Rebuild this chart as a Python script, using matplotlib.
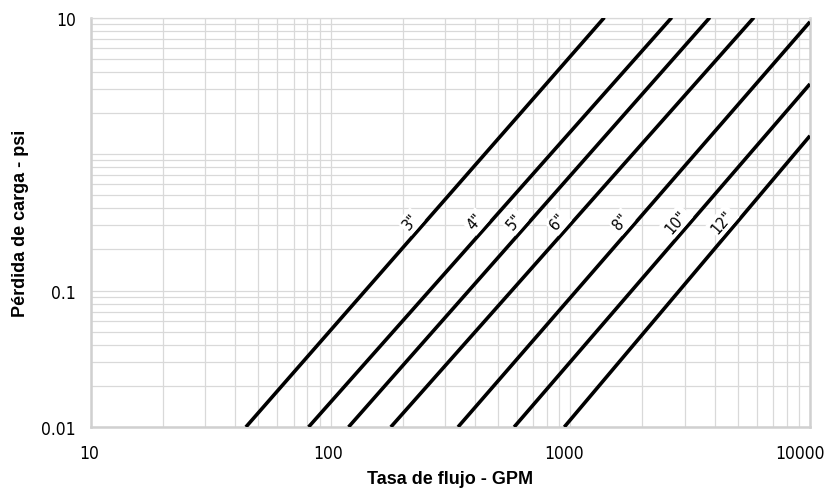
import numpy as np
import matplotlib
matplotlib.use("Agg")
import matplotlib.pyplot as plt
import matplotlib.transforms as mtransforms
from matplotlib.ticker import LogLocator, NullFormatter

# pipe sizes and line end points (GPM, psi)
sizes = ['3"', '4"', '5"', '6"', '8"', '10"', '12"']
q_start = [44.3, 80.9, 118.8, 178.3, 340, 583, 944]
p_start = [0.01, 0.01, 0.01, 0.01, 0.01, 0.01, 0.01]
q_end = [1387, 2650, 3820, 5834, 10000, 10000, 10000]
p_end = [10, 10, 10, 10, 9.3, 3.26, 1.36]

label_p = 0.32  # psi level where the size labels sit

y_ticks = [0.01, 0.1, 1, 10]
y_ticklabels = ["0.01", "0.1", "", "10"]
x_ticks = [10, 100, 1000, 10000]
x_ticklabels = ["10", "100", "1000", "10000"]

fig = plt.figure(figsize=(8.27, 5.02), dpi=100)
ax = fig.add_axes([0.110, 0.1474, 0.8694, 0.8157])

ax.set_xscale("log")
ax.set_yscale("log")
ax.set_xlim(10, 10000)
ax.set_ylim(0.01, 10)

for s, q0, p0, q1, p1 in zip(sizes, q_start, p_start, q_end, p_end):
    ax.plot([q0, q1], [p0, p1], color="black", lw=2.6, solid_capstyle="butt", zorder=3)
    # x on the line at the label level (straight line in log-log)
    t = (np.log10(label_p) - np.log10(p0)) / (np.log10(p1) - np.log10(p0))
    qx = 10 ** (np.log10(q0) + t * (np.log10(q1) - np.log10(q0)))
    ax.annotate(s, xy=(qx, label_p), xytext=(-11, 0), textcoords="offset points",
                rotation=49, ha="center", va="center", fontsize=11.5,
                family="DejaVu Sans", fontstretch="condensed", zorder=4,
                bbox=dict(boxstyle="square,pad=0.15", fc="white", ec="none"))

ax.set_xticks(x_ticks)
ax.set_xticklabels(x_ticklabels, family="DejaVu Sans", fontstretch="condensed", fontsize=12.5)
ax.set_yticks(y_ticks)
ax.set_yticklabels(y_ticklabels, family="DejaVu Sans", fontstretch="condensed", fontsize=12.5)
ax.xaxis.set_minor_locator(LogLocator(base=10, subs=np.arange(2, 10)))
ax.yaxis.set_minor_locator(LogLocator(base=10, subs=np.arange(2, 10)))
ax.xaxis.set_minor_formatter(NullFormatter())
ax.yaxis.set_minor_formatter(NullFormatter())
ax.tick_params(which="both", length=0)
ax.tick_params(axis="x", pad=12)
ax.tick_params(axis="y", pad=11)

# the reference's x labels drift a little to the left
shifts = [-2, -3, -6, -10]
for lab, dx in zip(ax.get_xticklabels(), shifts):
    lab.set_transform(lab.get_transform() + mtransforms.Affine2D().translate(dx, 0))

ax.grid(True, which="both", color="#d9d9d9", lw=0.9, zorder=0)
ax.set_axisbelow(True)
for side in ["left", "bottom", "right"]:
    ax.spines[side].set_color("#d0d0d0")
    ax.spines[side].set_linewidth(1.8)
ax.spines["top"].set_color("#d9d9d9")
ax.spines["top"].set_linewidth(0.9)

ax.set_xlabel("Tasa de flujo - GPM", family="Liberation Sans", fontweight="bold", fontsize=13, labelpad=6)
ax.set_ylabel("Pérdida de carga - psi", family="Liberation Sans", fontweight="bold", fontsize=13, labelpad=9)

fig.savefig("out.png", dpi=100)
